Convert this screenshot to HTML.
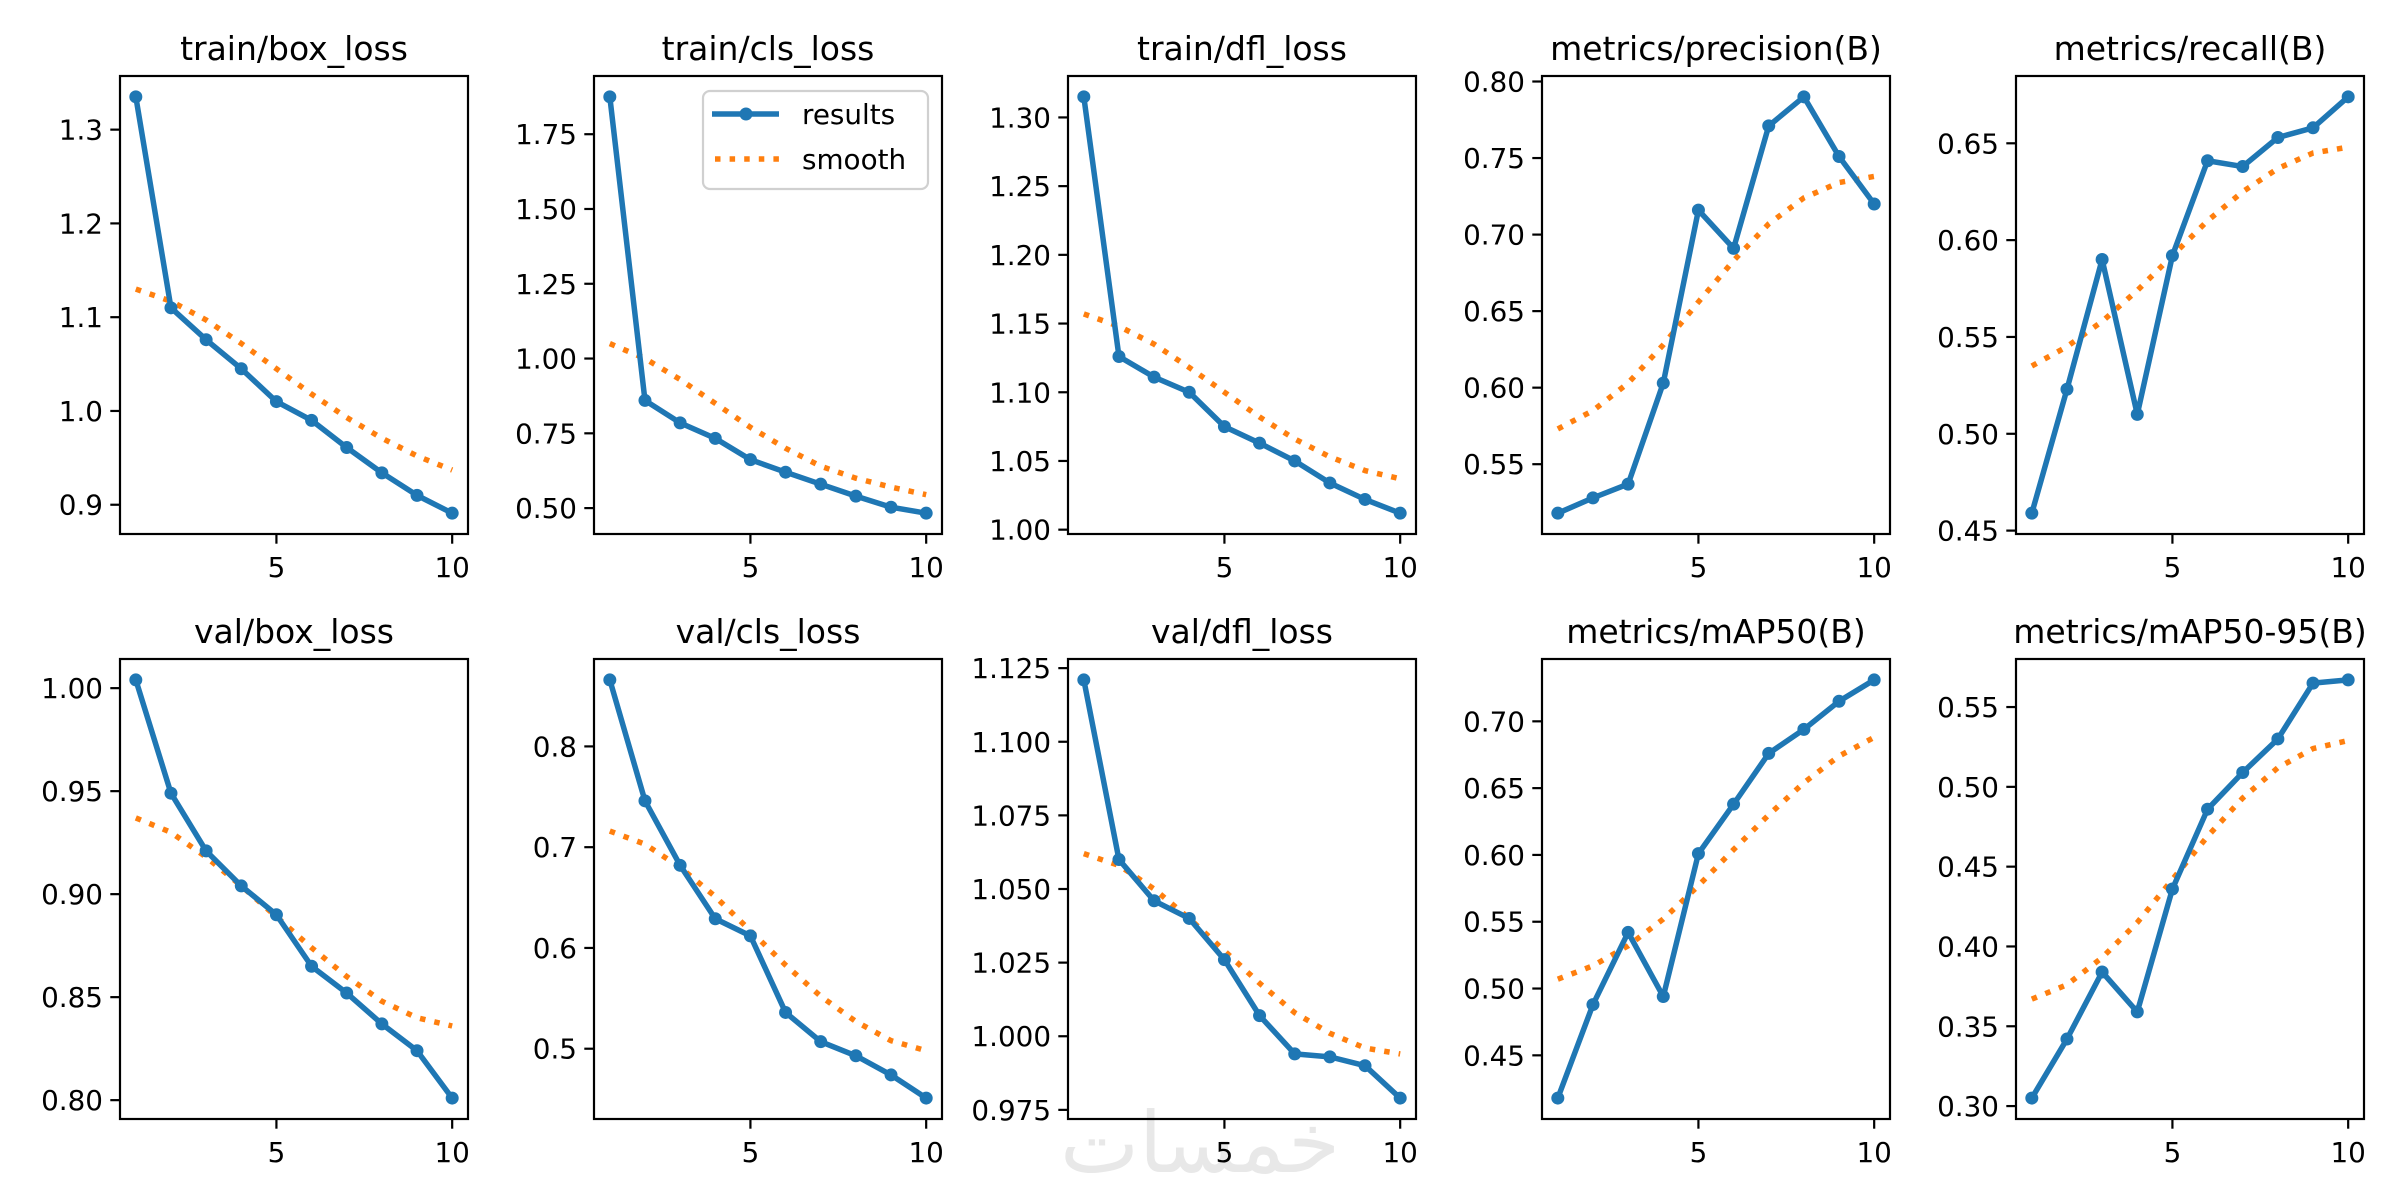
<!DOCTYPE html>
<html><head><meta charset="utf-8">
<style>
html,body{margin:0;padding:0;background:#fff;}
svg{display:block;font-family:"DejaVu Sans","Liberation Sans",sans-serif;}
</style></head>
<body>
<svg id="fig" width="2400" height="1200" viewBox="0 0 2400 1200" xmlns="http://www.w3.org/2000/svg">
<rect width="2400" height="1200" fill="#fff"/>
<text x="1200" y="1172" text-anchor="middle" font-size="84" fill="#e8e8e8" font-family="DejaVu Sans, sans-serif">خمسات</text>
</svg>
<script>
const epochs = [1,2,3,4,5,6,7,8,9,10];
const titles = ["train/box_loss","train/cls_loss","train/dfl_loss","metrics/precision(B)","metrics/recall(B)",
                "val/box_loss","val/cls_loss","val/dfl_loss","metrics/mAP50(B)","metrics/mAP50-95(B)"];
const trainBox = [1.335,1.110,1.076,1.045,1.010,0.990,0.961,0.934,0.910,0.891];
const trainBoxSmooth = [1.130,1.117,1.097,1.072,1.045,1.018,0.993,0.971,0.952,0.937];
const trainCls = [1.875,0.860,0.785,0.733,0.662,0.620,0.580,0.540,0.503,0.483];
const trainClsSmooth = [1.050,1.000,0.930,0.850,0.770,0.700,0.640,0.600,0.570,0.545];
const trainDfl = [1.315,1.126,1.111,1.100,1.075,1.063,1.050,1.034,1.022,1.012];
const trainDflSmooth = [1.157,1.148,1.135,1.118,1.100,1.082,1.066,1.053,1.043,1.037];
const precision = [0.518,0.528,0.537,0.603,0.716,0.691,0.771,0.790,0.751,0.720];
const precisionSmooth = [0.573,0.585,0.603,0.628,0.656,0.683,0.707,0.724,0.734,0.738];
const recall = [0.459,0.523,0.590,0.510,0.592,0.641,0.638,0.653,0.658,0.674];
const recallSmooth = [0.535,0.545,0.558,0.574,0.592,0.610,0.625,0.637,0.645,0.648];
const valBox = [1.004,0.949,0.921,0.904,0.890,0.865,0.852,0.837,0.824,0.801];
const valBoxSmooth = [0.937,0.930,0.918,0.904,0.889,0.874,0.860,0.848,0.840,0.836];
const valCls = [0.866,0.746,0.682,0.629,0.612,0.536,0.507,0.493,0.474,0.451];
const valClsSmooth = [0.716,0.703,0.680,0.651,0.617,0.583,0.552,0.527,0.508,0.498];
const valDfl = [1.121,1.060,1.046,1.040,1.026,1.007,0.994,0.993,0.990,0.979];
const valDflSmooth = [1.062,1.058,1.050,1.040,1.029,1.018,1.008,1.001,0.996,0.994];
const map50 = [0.418,0.488,0.542,0.494,0.601,0.638,0.676,0.694,0.715,0.731];
const map50Smooth = [0.507,0.517,0.532,0.552,0.577,0.604,0.630,0.654,0.674,0.688];
const map5095 = [0.305,0.342,0.384,0.359,0.436,0.486,0.509,0.530,0.565,0.567];
const map5095Smooth = [0.367,0.376,0.393,0.415,0.442,0.469,0.493,0.512,0.524,0.529];
const yTicks1 = ["0.9","1.0","1.1","1.2","1.3"];
const yTicks2 = ["0.50","0.75","1.00","1.25","1.50","1.75"];
const yTicks3 = ["1.00","1.05","1.10","1.15","1.20","1.25","1.30"];
const yTicks4 = ["0.55","0.60","0.65","0.70","0.75","0.80"];
const yTicks5 = ["0.45","0.50","0.55","0.60","0.65"];
const yTicks6 = ["0.80","0.85","0.90","0.95","1.00"];
const yTicks7 = ["0.5","0.6","0.7","0.8"];
const yTicks8 = ["0.975","1.000","1.025","1.050","1.075","1.100","1.125"];
const yTicks9 = ["0.45","0.50","0.55","0.60","0.65","0.70"];
const yTicks10 = ["0.30","0.35","0.40","0.45","0.50","0.55"];
const xTicks = [5,10];

const results=[trainBox,trainCls,trainDfl,precision,recall,valBox,valCls,valDfl,map50,map5095];
const smooths=[trainBoxSmooth,trainClsSmooth,trainDflSmooth,precisionSmooth,recallSmooth,valBoxSmooth,valClsSmooth,valDflSmooth,map50Smooth,map5095Smooth];
const yticks=[yTicks1,yTicks2,yTicks3,yTicks4,yTicks5,yTicks6,yTicks7,yTicks8,yTicks9,yTicks10];

const NS="http://www.w3.org/2000/svg";
const svg=document.getElementById('fig');
function mk(tag,attrs,parent){const e=document.createElementNS(NS,tag);for(const k in attrs)e.setAttribute(k,attrs[k]);(parent||svg).appendChild(e);return e;}
const colL=[120,594,1068,1542,2016], W=348;
const rowT=[76,659], H=[458,460];
const BLUE="#1f77b4", ORANGE="#ff7f0e";

for(let p=0;p<10;p++){
  const L=colL[p%5], T=rowT[Math.floor(p/5)], h=H[Math.floor(p/5)];
  const g=mk('g',{});
  
  
  const r=results[p], s=smooths[p];
  const all=r.concat(s);
  let mn=Math.min(...all), mx=Math.max(...all); const pad=(mx-mn)*0.05; mn-=pad; mx+=pad;
  const x0=epochs[0], x1=epochs[epochs.length-1], xp=(x1-x0)*0.05;
  const sx=v=>L+(v-(x0-xp))/((x1+xp)-(x0-xp))*W;
  const sy=v=>T+h-(v-mn)/(mx-mn)*h;
  // title
  const t=mk('text',{x:L+W/2,y:T-16,'text-anchor':'middle','font-size':33,fill:'#000'},g);
  t.textContent=titles[p];
  
  
  // y ticks
  yticks[p].forEach(lbl=>{const v=parseFloat(lbl);const y=sy(v);
    const tk=mk('line',{x1:L-9.7,x2:L,y1:y,y2:y,stroke:'#000','stroke-width':2.2},g);
    
    
    const tl=mk('text',{x:L-17,y:y+10,'text-anchor':'end','font-size':27.8,fill:'#000'},g);
    tl.textContent=lbl;
    
    
  });
  xTicks.forEach(v=>{const x=sx(v);
    const tk=mk('line',{x1:x,x2:x,y1:T+h,y2:T+h+9.7,stroke:'#000','stroke-width':2.2},g);
    
    
    const tl=mk('text',{x:x,y:T+h+43,'text-anchor':'middle','font-size':27.8,fill:'#000'},g);
    tl.textContent=String(v);
    
    
  });
  // smooth
  const sp=mk('polyline',{points:epochs.map((e,i)=>sx(e)+','+sy(s[i])).join(' '),fill:'none',stroke:ORANGE,'stroke-width':5.5,'stroke-dasharray':'5.5 9.1'},g);
  
  
  const rp=mk('polyline',{points:epochs.map((e,i)=>sx(e)+','+sy(r[i])).join(' '),fill:'none',stroke:BLUE,'stroke-width':5.5,'stroke-linejoin':'round'},g);
  
  
  epochs.forEach((e,i)=>{const c=mk('circle',{cx:sx(e),cy:sy(r[i]),r:6.5,fill:BLUE},g);
    
    });
  const fr=mk('rect',{x:L,y:T,width:W,height:h,fill:'none',stroke:'#000','stroke-width':2.2},g);
  
  
}
// legend
const lg=mk('g',{});


mk('rect',{x:703,y:91,width:225,height:98,rx:7,fill:'#fff','fill-opacity':0.8,stroke:'#d0d0d0','stroke-width':2.2},lg);
const le1=mk('g',{},lg);


mk('line',{x1:712,x2:779,y1:114,y2:114,stroke:BLUE,'stroke-width':5.5},le1);
mk('circle',{cx:746,cy:114,r:6.5,fill:BLUE},le1);
const lt1=mk('text',{x:802,y:124,'font-size':27.8,fill:'#000'},le1);lt1.textContent='results';
const le2=mk('g',{},lg);


mk('line',{x1:715,x2:779,y1:159,y2:159,stroke:ORANGE,'stroke-width':5.5,'stroke-dasharray':'5.5 9.1'},le2);
const lt2=mk('text',{x:802,y:169,'font-size':27.8,fill:'#000'},le2);lt2.textContent='smooth';
</script>
</body></html>
